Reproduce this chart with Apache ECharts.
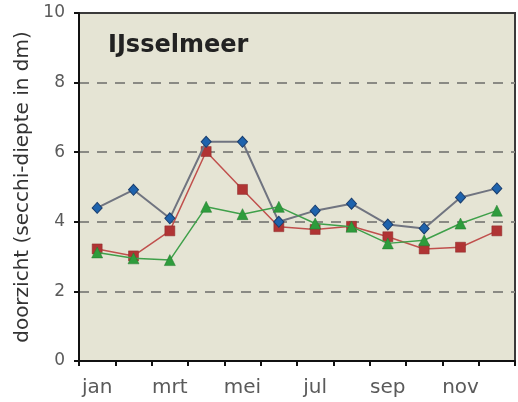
<!DOCTYPE html>
<html>
<head>
<meta charset="utf-8">
<script src="https://cdn.jsdelivr.net/npm/echarts@6/dist/echarts.min.js"></script>
<style>html,body{margin:0;padding:0;background:#fff}#c{width:518px;height:402px}</style>
</head>
<body>
<div id="c"></div>
<script>
var months = ['jan','feb','mrt','apr','mei','jun','jul','aug','sep','okt','nov','dec'];
var blueValues = [4.4, 4.92, 4.1, 6.3, 6.3, 4.0, 4.32, 4.52, 3.92, 3.81, 4.7, 4.96];
var redValues = [3.22, 3.02, 3.74, 6.02, 4.93, 3.86, 3.78, 3.87, 3.57, 3.22, 3.27, 3.74];
var greenValues = [3.12, 2.95, 2.9, 4.43, 4.22, 4.43, 3.95, 3.86, 3.38, 3.47, 3.95, 4.32];
var yTicks = [0, 2, 4, 6, 8, 10];
var titleText = 'IJsselmeer';
var yName = 'doorzicht (secchi-diepte in dm)';

var font = 'DejaVu Sans';
var chart = echarts.init(document.getElementById('c'), null, {renderer: 'canvas'});
chart.setOption({
  animation: false,
  backgroundColor: '#ffffff',
  title: {
    text: titleText, left: 108, top: 34, padding: 0,
    textStyle: {fontFamily: font, fontSize: 24, fontWeight: 'bold', color: '#222'}
  },
  grid: {
    left: 79, right: 3, top: 13, bottom: 41,
    show: true, backgroundColor: '#e5e4d4', borderColor: '#3a3a3a', borderWidth: 2
  },
  xAxis: {
    type: 'category', data: months, boundaryGap: true,
    axisLine: {lineStyle: {color: '#111', width: 2}},
    axisTick: {show: true, inside: false, length: 5, lineStyle: {color: '#111', width: 2}, interval: 0},
    axisLabel: {interval: 1, margin: 17, fontFamily: font, fontSize: 20, color: '#5a5a5a'},
    splitLine: {show: false}
  },
  yAxis: {
    type: 'value', min: yTicks[0], max: yTicks[yTicks.length - 1], interval: 2,
    name: yName, nameLocation: 'middle', nameGap: 46,
    nameTextStyle: {fontFamily: font, fontSize: 20, color: '#333'},
    axisLine: {show: true, lineStyle: {color: '#111', width: 2}},
    axisTick: {show: true, length: 5, lineStyle: {color: '#111', width: 2}},
    axisLabel: {margin: 14, fontFamily: font, fontSize: 17, color: '#5a5a5a'},
    splitLine: {show: true, showMinLine: false, showMaxLine: false, lineStyle: {color: '#8a8a84', width: 2, type: [10, 8]}}
  },
  series: [
    {
      name: 'blue', type: 'line', data: blueValues, symbol: 'diamond', symbolSize: [10, 11],
      lineStyle: {color: '#707480', width: 2},
      itemStyle: {color: '#1e63ad', borderColor: '#1a3e6e', borderWidth: 1}, z: 3
    },
    {
      name: 'red', type: 'line', data: redValues, symbol: 'rect', symbolSize: 10,
      lineStyle: {color: '#c0504d', width: 1.5},
      itemStyle: {color: '#b03434', borderColor: '#8a2a2a', borderWidth: 0.5}, z: 2
    },
    {
      name: 'green', type: 'line', data: greenValues, symbol: 'triangle', symbolSize: 11,
      lineStyle: {color: '#3fa04a', width: 1.5},
      itemStyle: {color: '#2e9c3c', borderColor: '#237a2e', borderWidth: 0.5}, z: 4
    }
  ]
});
</script>
</body>
</html>
